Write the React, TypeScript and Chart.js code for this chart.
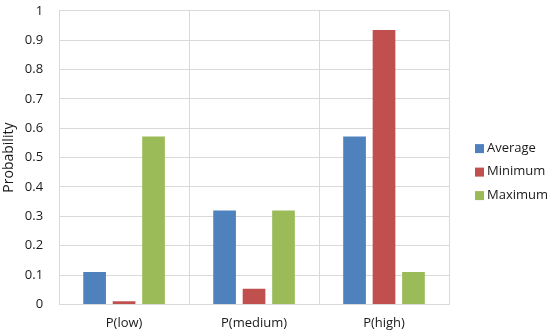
import React, { useEffect, useRef } from "react";
import { Chart, registerables } from "chart.js";

Chart.register(...registerables);

const categories = ["P(low)", "P(medium)", "P(high)"];
const averageValues = [0.11, 0.32, 0.572];
const minimumValues = [0.011, 0.053, 0.935];
const maximumValues = [0.572, 0.32, 0.11];
const seriesNames = ["Average", "Minimum", "Maximum"];
const seriesColors = ["#4F81BD", "#C0504D", "#9BBB59"];

const FONT_FAMILY = "'Open Sans', 'Liberation Sans', sans-serif";
const TEXT = "#1a1a1a";

const sideLegend = {
  id: "sideLegend",
  afterDraw(chart: any) {
    const ctx = chart.ctx;
    const area = chart.chartArea;
    const x = area.right + 26;
    const midY = (area.top + area.bottom) / 2 + 14;
    const step = 23.5;
    const n = chart.data.datasets.length;
    ctx.save();
    ctx.font = `13px ${FONT_FAMILY}`;
    ctx.textBaseline = "middle";
    ctx.textAlign = "left";
    chart.data.datasets.forEach((ds: any, i: number) => {
      const y = midY + (i - (n - 1) / 2) * step;
      ctx.fillStyle = ds.backgroundColor;
      ctx.fillRect(x, y - 4, 9, 9);
      ctx.fillStyle = TEXT;
      ctx.fillText(ds.label, x + 12, y);
    });
    ctx.restore();
  },
};

export default function App() {
  const ref = useRef<HTMLCanvasElement | null>(null);
  useEffect(() => {
    document.body.style.margin = "0";
    const font = { family: FONT_FAMILY, size: 13 };
    const grid = "#d9d9d9";
    const chart = new Chart(ref.current!, {
      type: "bar",
      data: {
        labels: categories,
        datasets: [averageValues, minimumValues, maximumValues].map((d, i) => ({
          label: seriesNames[i],
          data: d,
          backgroundColor: seriesColors[i],
          borderWidth: 0,
          categoryPercentage: 0.68,
          barPercentage: 0.77,
        })),
      },
      plugins: [sideLegend],
      options: {
        animation: false,
        responsive: false,
        maintainAspectRatio: false,
        layout: { autoPadding: false, padding: { top: 10, right: 101, bottom: 0, left: 1 } },
        plugins: {
          legend: { display: false },
          tooltip: { enabled: false },
        },
        scales: {
          x: {
            grid: { color: grid, lineWidth: 1, drawTicks: false },
            border: { color: grid },
            ticks: { color: TEXT, font, padding: 11 },
          },
          y: {
            min: 0,
            max: 1,
            grid: { color: grid, lineWidth: 1, drawTicks: true, tickLength: 13, tickColor: "rgba(0,0,0,0)" },
            border: { color: grid },
            ticks: {
              stepSize: 0.1,
              color: TEXT,
              font,
              padding: 3,
              callback: (v: any) => String(Number(Number(v).toFixed(1))),
            },
            title: {
              display: true,
              text: "Probability",
              color: TEXT,
              font: { family: FONT_FAMILY, size: 14 },
              padding: { top: 0, bottom: 4 },
            },
          },
        },
      },
    });
    return () => chart.destroy();
  }, []);
  return (
    <div style={{ width: 550, height: 334, overflow: "hidden" }}>
      <canvas ref={ref} width={550} height={342} />
    </div>
  );
}
